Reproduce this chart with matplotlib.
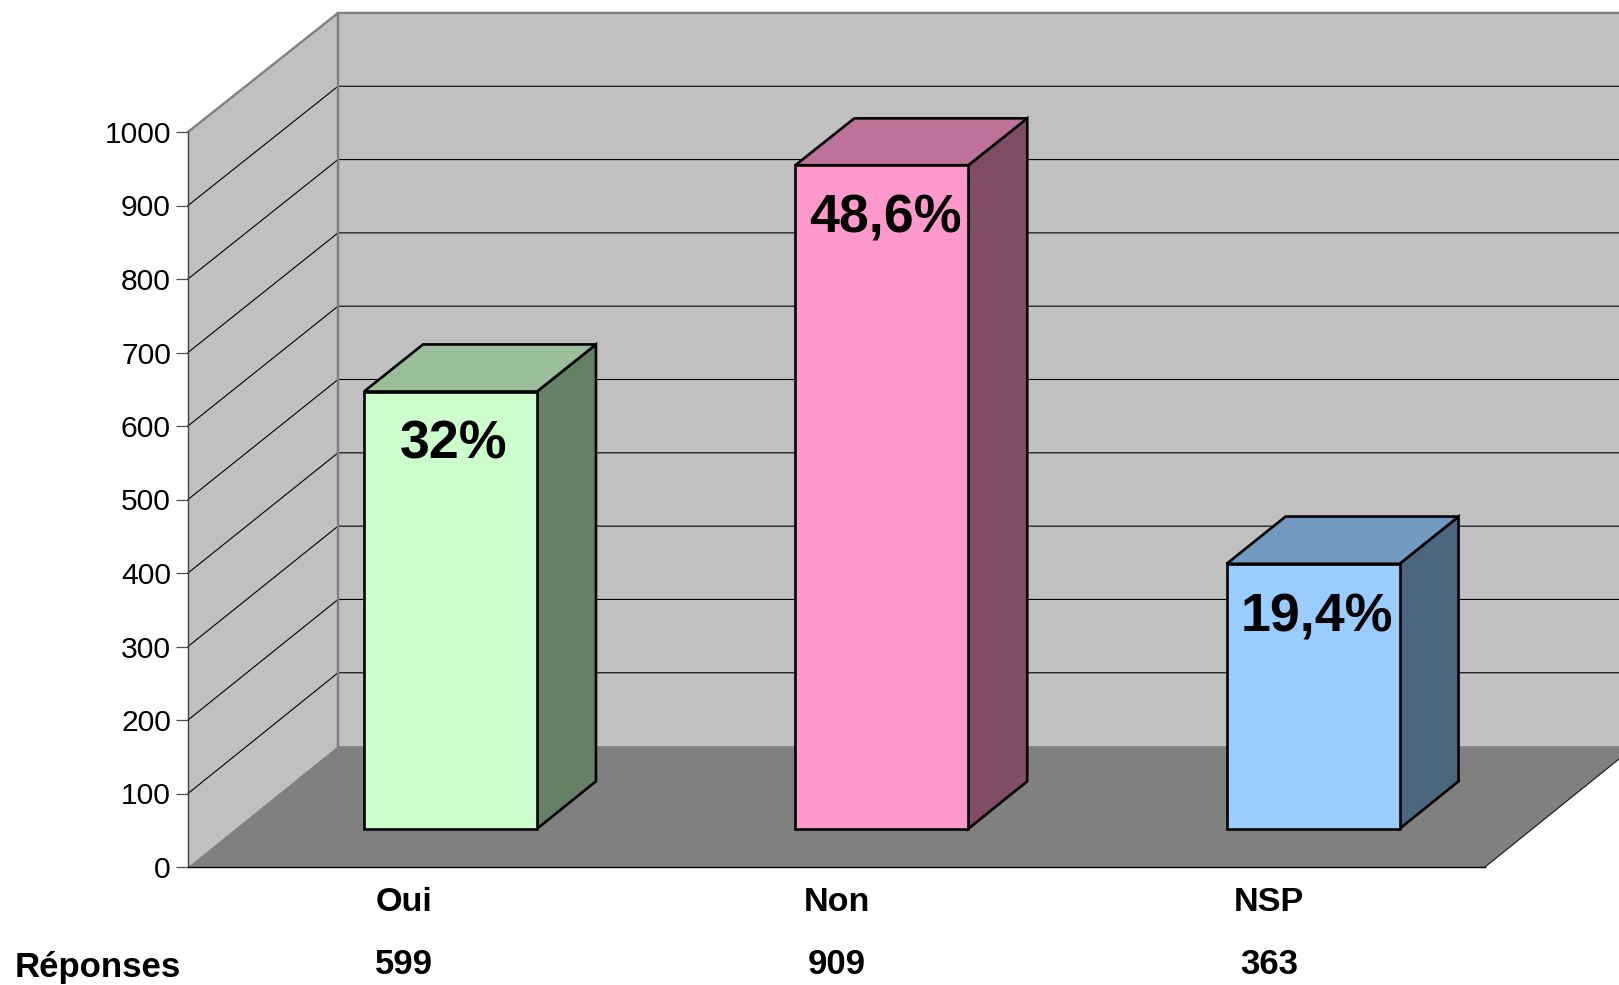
# Survey answers as a 3D-look column chart

import matplotlib
matplotlib.use("Agg")
import matplotlib.pyplot as plt
from matplotlib.patches import Polygon

plt.rcParams['font.family'] = ['Liberation Sans', 'DejaVu Sans']

categories = ['Oui', 'Non', 'NSP']
reponses = [599, 909, 363]
percent_labels = ['32%', '48,6%', '19,4%']
y_ticks = [0, 100, 200, 300, 400, 500, 600, 700, 800, 900, 1000]

front_colors = ['#CCFFCC', '#FF99CC', '#99CCFF']
top_colors = ['#9BBF9B', '#BF7299', '#7299BF']
side_colors = ['#668066', '#804C66', '#4C6680']

# oblique projection: depth 0 is the front of the floor, depth 1 the back wall
depth_dx = 0.347
depth_dy = 164.5
depth_shrink = 0.0025
bar_width = 0.40
bar_pitch = 0.9976
bar_first = 0.4976
bar_front = 0.316
bar_back = 0.709
bar_scale = 0.994

fig = plt.figure(figsize=(16.19, 9.85), dpi=100)
ax = fig.add_axes([188/1619, 1 - 867/985, (1485 - 188)/1619, (867 - 132)/985])
ax.set_xlim(0, 3)
ax.set_ylim(0, 1000)
ax.patch.set_visible(False)


def proj(x, y, d):
    return (x + d*depth_dx, y*(1 - depth_shrink*d) + d*depth_dy)


def face(corners, color, edge='none', lw=0.0, z=1):
    pts = [proj(*c) for c in corners]
    ax.add_patch(Polygon(pts, closed=True, facecolor=color, edgecolor=edge,
                         linewidth=lw, zorder=z, clip_on=False, joinstyle='miter'))


# walls and floor
face([(0, 0, 0), (0, 1000, 0), (0, 1000, 1), (0, 0, 1)], '#C0C0C0')
face([(0, 0, 1), (0, 1000, 1), (3, 1000, 1), (3, 0, 1)], '#C0C0C0')
face([(0, 0, 0), (3, 0, 0), (3, 0, 1), (0, 0, 1)], '#808080', z=1.5)

# gridlines run along the side wall, then along the back wall
for v in y_ticks[1:-1]:
    xs, ys = zip(proj(0, v, 0), proj(0, v, 1), proj(3, v, 1))
    ax.plot(xs, ys, color='black', lw=0.8, zorder=2, clip_on=False)

# wall outline
xs, ys = zip(proj(0, 1000, 0), proj(0, 1000, 1), proj(3, 1000, 1))
ax.plot(xs, ys, color='#808080', lw=1.7, zorder=2, clip_on=False)
xs, ys = zip(proj(0, 0, 1), proj(0, 1000, 1))
ax.plot(xs, ys, color='#808080', lw=1.7, zorder=2, clip_on=False)
xs, ys = zip(proj(3, 0, 0), proj(3, 0, 1))
ax.plot(xs, ys, color='#222222', lw=0.9, zorder=2, clip_on=False)

# columns
for i, val in enumerate(reponses):
    mid = bar_first + i*bar_pitch
    x0 = mid - bar_width/2
    x1 = mid + bar_width/2
    h = val*bar_scale
    z = 3 + i
    face([(x1, 0, bar_front), (x1, h, bar_front), (x1, h, bar_back), (x1, 0, bar_back)],
         side_colors[i], 'black', 1.9, z)
    face([(x0, h, bar_front), (x1, h, bar_front), (x1, h, bar_back), (x0, h, bar_back)],
         top_colors[i], 'black', 1.9, z)
    face([(x0, 0, bar_front), (x1, 0, bar_front), (x1, h, bar_front), (x0, h, bar_front)],
         front_colors[i], 'black', 1.9, z)

    cx, cy = proj(mid + 0.008, h, bar_front)
    ax.text(cx, cy - 72.5, percent_labels[i], ha='center', va='center',
            fontsize=38.7, fontweight='bold', color='black', zorder=10)

    # table under the chart
    ax.text(i + 0.5, -48.6, categories[i], ha='center', va='center',
            fontsize=24.6, fontweight='bold', clip_on=False)
    ax.text(i + 0.5, -133, str(val), ha='center', va='center',
            fontsize=25, fontweight='bold', clip_on=False)

ax.annotate('Réponses', xy=(15/1619, 1 - 968/985), xycoords='figure fraction',
            ha='left', va='center', fontsize=25, fontweight='bold')

# y axis
for name in ['top', 'right']:
    ax.spines[name].set_visible(False)
ax.spines['left'].set_color('#404040')
ax.spines['left'].set_linewidth(1.0)
ax.spines['left'].set_zorder(2.5)
ax.spines['bottom'].set_color('black')
ax.spines['bottom'].set_linewidth(1.0)
ax.spines['bottom'].set_zorder(2.5)
ax.set_xticks([])
ax.set_yticks(y_ticks)
ax.tick_params(axis='y', length=8.3, width=0.9, color='#505050', pad=4, labelsize=21.6)
for t in ax.get_yticklabels():
    t.set_color('black')

fig.savefig('out.png', dpi=100, facecolor='white')
